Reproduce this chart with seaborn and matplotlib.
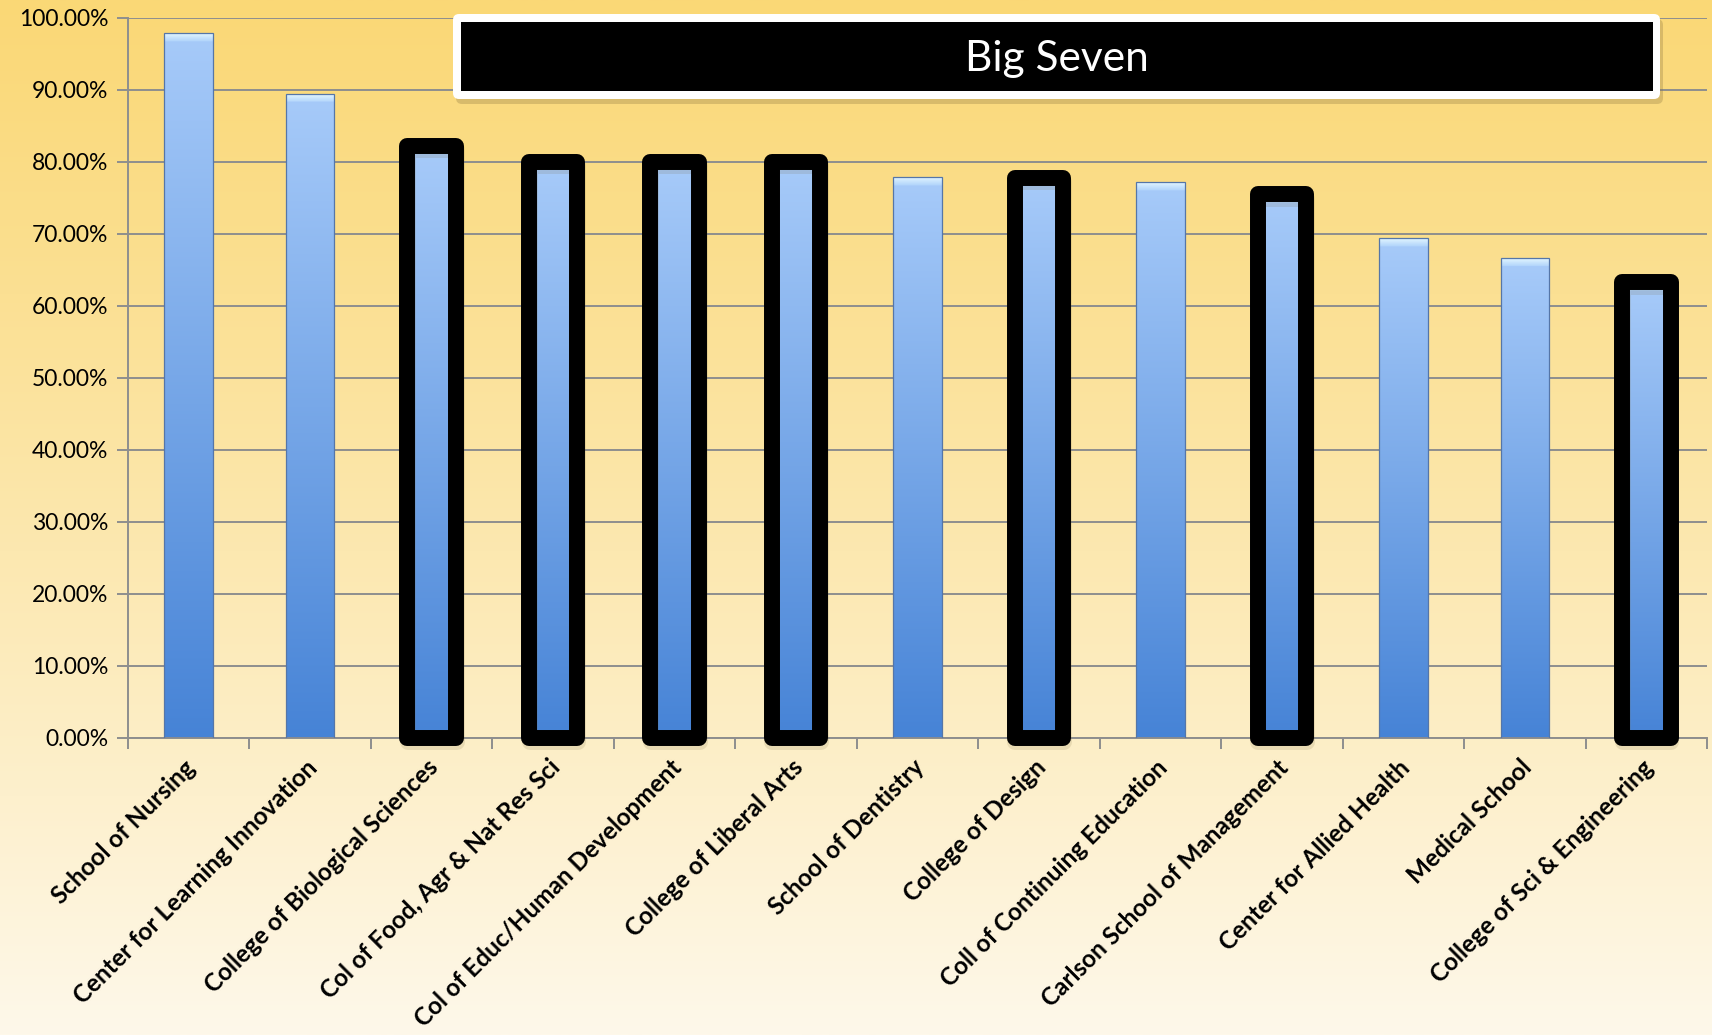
import numpy as np
import pandas as pd
import matplotlib
matplotlib.use("Agg")
import matplotlib.pyplot as plt
import seaborn as sns
from matplotlib.ticker import PercentFormatter, FixedLocator
from matplotlib.patches import FancyBboxPatch, Rectangle
from matplotlib.colors import to_rgb
from matplotlib.transforms import IdentityTransform, ScaledTranslation

# ---------------- data ----------------
categories = [
    "School of Nursing",
    "Center for Learning Innovation",
    "College of Biological Sciences",
    "Col of Food, Agr & Nat Res Sci",
    "Col of Educ/Human Development",
    "College of Liberal Arts",
    "School of Dentistry",
    "College of Design",
    "Coll of Continuing Education",
    "Carlson School of Management",
    "Center for Allied Health",
    "Medical School",
    "College of Sci & Engineering",
]
values = [0.979, 0.894, 0.822, 0.800, 0.800, 0.800, 0.779, 0.778, 0.772,
          0.755, 0.694, 0.666, 0.633]
big_seven = [False, False, True, True, True, True, False, True, False,
             True, False, False, True]
yticks = [0.0, 0.1, 0.2, 0.3, 0.4, 0.5, 0.6, 0.7, 0.8, 0.9, 1.0]
title_text = "Big Seven"

# ---------------- style ----------------
sns.set_theme(style="white")
plt.rcParams["font.family"] = ["Lato", "DejaVu Sans"]

W, H = 1712, 1035
fig = plt.figure(figsize=(W / 100, H / 100), dpi=100)

# background gradient (gold -> cream)
bg = fig.add_axes([0, 0, 1, 1], zorder=-10)
c_top = np.array(to_rgb("#FAD876"))
c_bot = np.array(to_rgb("#FEF8EA"))
t = np.linspace(0, 1, 512).reshape(-1, 1, 1) ** 1.1
grad = c_top * (1 - t) + c_bot * t
bg.imshow(grad, aspect="auto", extent=[0, 1, 0, 1], origin="upper")
bg.set_axis_off()

# main axes
ax_left, ax_right = 128, 1707
ax_top, ax_bottom = 18, 738
ax = fig.add_axes([ax_left / W, 1 - ax_bottom / H,
                   (ax_right - ax_left) / W, (ax_bottom - ax_top) / H])
ax.set_facecolor("none")

df = pd.DataFrame({"cat": categories, "val": values})
sns.barplot(data=df, x="cat", y="val", color="#4A86D6", width=0.4, ax=ax,
            zorder=2)

px_per_unit = ax_bottom - ax_top
c_bev_top = np.array(to_rgb("#E4F7FF"))
c_bev_bot = np.array(to_rgb("#B2D5FB"))
c_bar_top = np.array(to_rgb("#A6CAF9"))
c_bar_bot = np.array(to_rgb("#4683D6"))

for p, big in zip(ax.patches, big_seven):
    x0, w, h = p.get_x(), p.get_width(), p.get_height()
    n = 600
    frac = min(8.0 / (h * px_per_unit), 0.5)
    pos = (np.arange(n) + 0.5) / n
    arr = np.zeros((n, 1, 3))
    for i, s in enumerate(pos):
        if s < frac:
            u = s / frac
            arr[i, 0] = c_bev_top * (1 - u) + c_bev_bot * u
        else:
            u = (s - frac) / (1 - frac)
            arr[i, 0] = c_bar_top * (1 - u) + c_bar_bot * u
    im = ax.imshow(arr, extent=(x0, x0 + w, 0, h), aspect="auto",
                   origin="upper", zorder=2.5, interpolation="bilinear")
    im.set_clip_path(p)
    p.set_facecolor("none")
    p.set_zorder(3)
    if big:
        p.set_edgecolor("black")
        p.set_linewidth(11.5)
        p.set_joinstyle("round")
        p.set_clip_on(False)
        sh = Rectangle((x0 + 0.006, -0.006), w, h, facecolor="none",
                       edgecolor="#7a6a40", linewidth=11.5, alpha=0.15,
                       joinstyle="round", zorder=2.9, clip_on=False)
        ax.add_patch(sh)
    else:
        p.set_edgecolor("#5576A8")
        p.set_linewidth(0.9)

ax.set_xlim(-0.5, len(categories) - 0.5)
ax.set_ylim(0, 1.0)

grey = "#8E8E8E"
ax.yaxis.set_major_locator(FixedLocator(yticks))
ax.yaxis.set_major_formatter(PercentFormatter(1.0, decimals=2))
ax.grid(axis="y", color=grey, linewidth=1.4)
ax.set_axisbelow(True)
ax.tick_params(axis="y", length=8, width=1.4, color=grey, labelsize=16.5,
               pad=6, labelcolor="black", left=True)
ax.set_xticks(np.arange(-0.5, len(categories), 1), minor=True)
ax.tick_params(axis="x", which="minor", length=8, width=1.4, color=grey,
               bottom=True)
ax.tick_params(axis="x", which="major", length=0, pad=12)
ax.set_xticks(range(len(categories)))
ax.set_xticklabels(categories, rotation=45, ha="right",
                   rotation_mode="anchor", fontweight="bold", fontsize=17.5,
                   color="black")
shift = ScaledTranslation(-5 / 100, -1 / 100, fig.dpi_scale_trans)
for lbl in ax.get_xticklabels():
    lbl.set_transform(lbl.get_transform() + shift)
ax.set_xlabel("")
ax.set_ylabel("")
for side in ("top", "right"):
    ax.spines[side].set_visible(False)
for side in ("left", "bottom"):
    ax.spines[side].set_color(grey)
    ax.spines[side].set_linewidth(1.4)

# title box
ident = IdentityTransform()
shadow = FancyBboxPatch((456, H - 104), 1207, 85,
                        boxstyle="round,pad=0,rounding_size=6",
                        transform=ident, facecolor="#8a7440", alpha=0.3,
                        edgecolor="none", zorder=5)
outer = FancyBboxPatch((453, H - 99), 1207, 85,
                       boxstyle="round,pad=0,rounding_size=6",
                       transform=ident, facecolor="white",
                       edgecolor="none", zorder=6)
inner = Rectangle((461, H - 91), 1192, 69, transform=ident,
                  facecolor="black", edgecolor="none", zorder=7)
for art in (shadow, outer, inner):
    fig.add_artist(art)
fig.text(1057, H - 71.5, title_text, transform=ident, color="white",
         fontsize=30.5, ha="center", va="baseline", zorder=8)

fig.savefig("out.png", dpi=100)
